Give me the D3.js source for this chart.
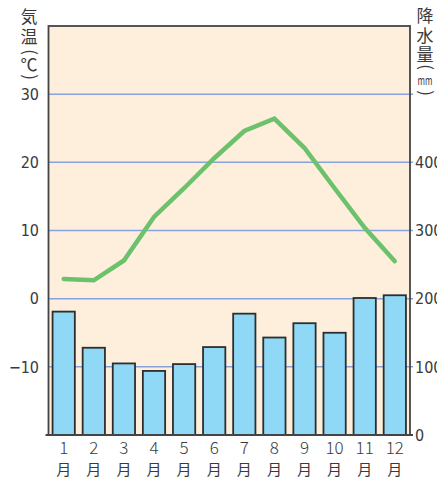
<!DOCTYPE html>
<html><head><meta charset="utf-8">
<script src="https://cdn.jsdelivr.net/npm/d3@7"></script>
<style>
html,body{margin:0;padding:0;background:#fff;}
svg{display:block;}
</style></head>
<body>
<svg id="c" width="437" height="482"></svg>
<script>
const months = ["1","2","3","4","5","6","7","8","9","10","11","12"];
const temperature = [2.9, 2.7, 5.6, 12.0, 16.2, 20.6, 24.6, 26.4, 22.1, 16.2, 10.4, 5.5];
const precipitation = [181, 128, 105, 94, 104, 129, 178, 143, 164, 150, 201, 205];
const tempTicks = [-10, 0, 10, 20, 30];
const tempTickLabels = ["\u221210", "0", "10", "20", "30"];
const precipTicks = [0, 100, 200, 300, 400];
const leftTitle = ["気", "温", "(", "℃", ")"];
const rightTitle = ["降", "水", "量", "(", "mm", ")"];

const svg = d3.select("#c");
const X0 = 48.5, X1 = 410, Y0 = 26, Y1 = 435;

const x = d3.scaleBand().domain(months).range([X0, X1]).paddingInner(0.26).paddingOuter(0.135);
const yT = d3.scaleLinear().domain([-20, 40]).range([Y1, Y0]);
const yP = d3.scaleLinear().domain([0, 600]).range([Y1, Y0]);

const numFont = "'DejaVu Sans Condensed','Liberation Sans Narrow','Noto Sans',sans-serif";
const cjkFont = "'Noto Sans CJK JP','Noto Sans',sans-serif";

// background
svg.append("rect").attr("x", X0).attr("y", Y0).attr("width", X1 - X0).attr("height", Y1 - Y0)
  .attr("fill", "#fdefdb");

// grid lines
svg.append("g").selectAll("line").data(tempTicks).join("line")
  .attr("x1", X0).attr("x2", X1 + 3)
  .attr("y1", d => yT(d)).attr("y2", d => yT(d))
  .attr("stroke", "#86a3dd").attr("stroke-width", 1.5);

// bars
svg.append("g").selectAll("rect").data(precipitation).join("rect")
  .attr("x", (d, i) => x(months[i]))
  .attr("y", d => yP(d))
  .attr("width", x.bandwidth())
  .attr("height", d => Y1 - yP(d))
  .attr("fill", "#8fd8f6")
  .attr("stroke", "#2e2e2e").attr("stroke-width", 1.8);

// temperature line
const line = d3.line().x((d, i) => x(months[i]) + x.bandwidth() / 2).y(d => yT(d));
svg.append("path").datum(temperature).attr("d", line)
  .attr("fill", "none").attr("stroke", "#6cc16d").attr("stroke-width", 4.5)
  .attr("stroke-linejoin", "miter").attr("stroke-linecap", "round");

// frame
svg.append("rect").attr("x", X0).attr("y", Y0).attr("width", X1 - X0).attr("height", Y1 - Y0)
  .attr("fill", "none").attr("stroke", "#444").attr("stroke-width", 1.8);
svg.append("line").attr("x1", X0 - 3).attr("x2", X1 + 3).attr("y1", Y1).attr("y2", Y1)
  .attr("stroke", "#444").attr("stroke-width", 2);

// left ticks labels
svg.append("g").selectAll("text").data(tempTicks).join("text")
  .attr("x", 39).attr("y", d => yT(d)).attr("dy", "0.36em")
  .attr("text-anchor", "end")
  .attr("font-family", numFont).attr("font-size", 16).attr("fill", "#3a3a3a")
  .text((d, i) => tempTickLabels[i]);

// right ticks labels
svg.append("g").selectAll("text").data(precipTicks).join("text")
  .attr("x", 415).attr("y", d => yP(d)).attr("dy", "0.36em")
  .attr("text-anchor", "start")
  .attr("font-family", numFont).attr("font-size", 16).attr("fill", "#3a3a3a")
  .text(d => d);

// month labels
const ml = svg.append("g").selectAll("g").data(months).join("g")
  .attr("transform", d => `translate(${x(d) + x.bandwidth() / 2},0)`);
ml.append("text").attr("y", 454).attr("text-anchor", "middle")
  .attr("font-family", cjkFont).attr("font-size", 17).attr("font-weight", 300).attr("fill", "#3a3a3a")
  .text(d => d);
ml.append("text").attr("y", 475).attr("text-anchor", "middle")
  .attr("font-family", cjkFont).attr("font-size", 15).attr("fill", "#3a3a3a")
  .text("月");

// vertical titles
function vTitle(chars, cx, ys) {
  const g = svg.append("g");
  g.selectAll("text").data(chars).join("text")
    .attr("transform", (d, i) => {
      const rot = (d === "(" || d === ")") ? " rotate(90)" : "";
      return `translate(${cx},${ys[i]})${rot}`;
    })
    .attr("dy", d => (d === "(" || d === ")") ? "0.32em" : "0.36em")
    .attr("text-anchor", "middle")
    .attr("font-family", cjkFont)
    .attr("font-size", d => d === "mm" ? 13 : 17)
    .attr("textLength", d => d === "mm" ? 15 : null)
    .attr("lengthAdjust", "spacingAndGlyphs")
    .attr("fill", "#3a3a3a")
    .text(d => d);
}
vTitle(leftTitle, 29, [17, 37, 52, 65, 77]);
vTitle(rightTitle, 425, [16, 36, 55, 67, 80, 93]);
</script>
</body></html>
